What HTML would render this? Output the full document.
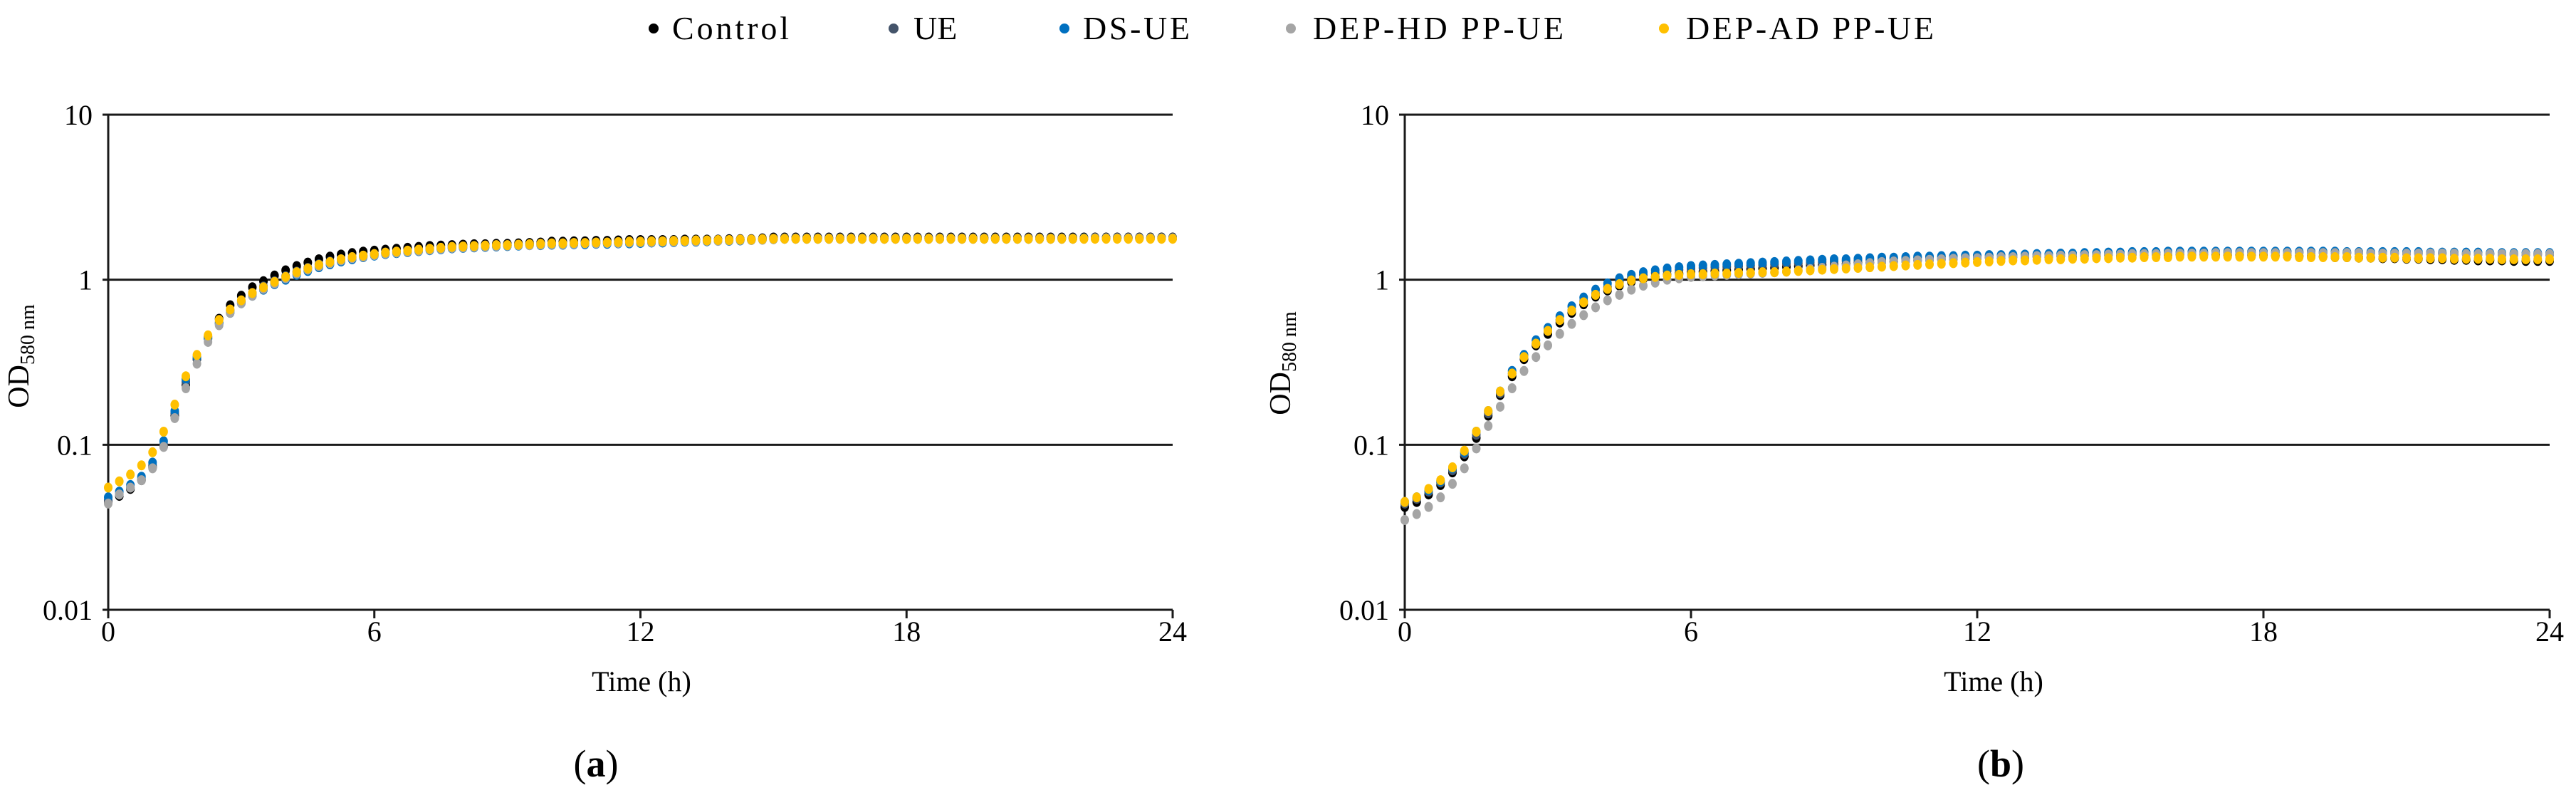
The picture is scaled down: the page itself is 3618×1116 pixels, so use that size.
<!DOCTYPE html>
<html><head><meta charset="utf-8">
<style>
html,body{margin:0;padding:0;background:#fff;}
svg{display:block;font-family:"Liberation Serif",serif;}
</style></head>
<body>
<svg id="fig" width="3618" height="1116" viewBox="0 0 3618 1116" xmlns="http://www.w3.org/2000/svg">
<g font-size="46">
 <g><circle cx="918" cy="40" r="7" fill="#000"/><text x="944" y="55" textLength="164">Control</text></g>
 <g><circle cx="1255" cy="40" r="7" fill="#44546a"/><text x="1283" y="55">UE</text></g>
 <g><circle cx="1495" cy="40" r="7" fill="#0070c0"/><text x="1521" y="55" textLength="150">DS-UE</text></g>
 <g><circle cx="1813" cy="40" r="7" fill="#a5a5a5"/><text x="1844" y="55" textLength="352">DEP-HD PP-UE</text></g>
 <g><circle cx="2337" cy="40" r="7" fill="#ffc000"/><text x="2368" y="55" textLength="348">DEP-AD PP-UE</text></g>
</g>
<g id="panelA"></g>
<g id="panelB"></g>
<text x="837" y="1090" font-size="54" text-anchor="middle">(<tspan font-weight="bold">a</tspan>)</text>
<text x="2810" y="1090" font-size="54" text-anchor="middle">(<tspan font-weight="bold">b</tspan>)</text>
</svg>
<script>
const times = [];
for (let i = 0; i <= 96; i++) times.push(i * 0.25);
const xTicks = [0, 6, 12, 18, 24];
const yTicks = [0.01, 0.1, 1, 10];
const yTickLabels = ["0.01", "0.1", "1", "10"];
const seriesNames = ["Control", "UE", "DS-UE", "DEP-HD PP-UE", "DEP-AD PP-UE"];
const seriesColors = ["#000000", "#44546a", "#0070c0", "#a5a5a5", "#ffc000"];

const aControl = [0.045,0.049,0.054,0.061,0.073,0.098,0.15,0.23,0.33,0.45,0.58,0.70,0.80,0.90,0.98,1.06,1.14,1.21,1.27,1.33,1.38,1.42,1.45,1.48,1.50,
1.52,1.54,1.56,1.58,1.60,1.61,1.62,1.63,1.64,1.64,1.65,1.65,1.66,1.67,1.68,1.70,1.70,1.71,1.71,1.72,1.72,1.73,1.74,1.74,
1.74,1.74,1.74,1.75,1.75,1.75,1.75,1.76,1.76,1.76,1.78,1.80,1.80,1.80,1.80,1.80,1.80,1.80,1.80,1.80,1.80,1.80,1.80,1.80,
1.80,1.80,1.80,1.80,1.80,1.80,1.80,1.80,1.80,1.80,1.80,1.80,1.80,1.80,1.80,1.80,1.80,1.80,1.80,1.80,1.80,1.80,1.80,1.80];
const aUE = [0.046,0.050,0.055,0.062,0.075,0.10,0.155,0.24,0.33,0.44,0.55,0.65,0.74,0.83,0.91,0.98,1.05,1.12,1.18,1.24,1.29,1.33,1.37,1.40,1.43,
1.46,1.48,1.50,1.52,1.54,1.56,1.58,1.59,1.60,1.61,1.62,1.62,1.63,1.64,1.65,1.65,1.66,1.67,1.67,1.68,1.68,1.69,1.70,1.70,
1.71,1.71,1.72,1.72,1.73,1.73,1.74,1.74,1.75,1.75,1.76,1.77,1.78,1.78,1.78,1.78,1.78,1.78,1.78,1.78,1.78,1.78,1.78,1.78,
1.78,1.78,1.78,1.78,1.78,1.78,1.78,1.78,1.78,1.78,1.78,1.78,1.78,1.78,1.78,1.78,1.79,1.79,1.79,1.79,1.79,1.79,1.79,1.79];
const aDSUE = [0.048,0.052,0.057,0.064,0.078,0.105,0.16,0.25,0.34,0.44,0.54,0.63,0.72,0.80,0.87,0.94,1.00,1.07,1.13,1.19,1.24,1.29,1.33,1.37,1.40,
1.43,1.45,1.47,1.49,1.51,1.53,1.55,1.56,1.57,1.58,1.59,1.60,1.61,1.62,1.62,1.63,1.63,1.64,1.64,1.65,1.65,1.66,1.66,1.67,
1.68,1.68,1.69,1.70,1.70,1.71,1.72,1.72,1.73,1.74,1.75,1.76,1.77,1.77,1.77,1.77,1.77,1.77,1.77,1.77,1.77,1.77,1.77,1.77,
1.77,1.77,1.77,1.77,1.77,1.77,1.77,1.77,1.77,1.77,1.77,1.77,1.77,1.77,1.77,1.78,1.78,1.78,1.78,1.78,1.78,1.78,1.78,1.78];
const aHD = [0.044,0.050,0.055,0.061,0.072,0.097,0.145,0.22,0.31,0.42,0.53,0.63,0.72,0.80,0.88,0.95,1.02,1.09,1.15,1.21,1.26,1.31,1.35,1.38,1.41,
1.44,1.46,1.48,1.50,1.52,1.54,1.56,1.57,1.58,1.59,1.60,1.61,1.62,1.62,1.63,1.64,1.64,1.65,1.66,1.66,1.67,1.67,1.68,1.69,
1.69,1.70,1.70,1.71,1.71,1.72,1.72,1.73,1.74,1.74,1.75,1.76,1.77,1.77,1.77,1.77,1.77,1.77,1.77,1.77,1.77,1.77,1.77,1.77,
1.77,1.77,1.77,1.77,1.77,1.77,1.77,1.77,1.77,1.77,1.77,1.77,1.77,1.77,1.77,1.77,1.78,1.78,1.78,1.78,1.78,1.78,1.78,1.78];
const aAD = [0.055,0.060,0.066,0.075,0.090,0.12,0.175,0.26,0.35,0.46,0.57,0.66,0.75,0.83,0.90,0.97,1.04,1.11,1.17,1.23,1.28,1.33,1.37,1.40,1.43,
1.46,1.48,1.50,1.52,1.54,1.56,1.58,1.59,1.60,1.61,1.62,1.62,1.63,1.64,1.65,1.66,1.66,1.67,1.67,1.68,1.68,1.69,1.70,1.70,
1.71,1.71,1.72,1.72,1.73,1.73,1.74,1.74,1.75,1.75,1.76,1.77,1.77,1.77,1.77,1.77,1.77,1.77,1.77,1.77,1.77,1.77,1.77,1.77,
1.77,1.77,1.77,1.77,1.77,1.77,1.77,1.77,1.77,1.77,1.77,1.77,1.77,1.77,1.77,1.77,1.77,1.77,1.77,1.77,1.77,1.77,1.77,1.77];

const bControl = [0.042,0.045,0.050,0.057,0.068,0.085,0.11,0.15,0.20,0.26,0.33,0.40,0.47,0.55,0.63,0.71,0.79,0.86,0.92,0.97,1.01,1.04,1.07,1.09,1.11,
1.12,1.13,1.14,1.15,1.16,1.17,1.18,1.20,1.21,1.22,1.23,1.24,1.25,1.26,1.27,1.28,1.29,1.30,1.31,1.32,1.33,1.34,1.34,1.35,
1.36,1.36,1.37,1.37,1.38,1.38,1.39,1.39,1.40,1.40,1.41,1.41,1.42,1.42,1.42,1.42,1.42,1.42,1.42,1.42,1.41,1.41,1.41,1.40,
1.40,1.39,1.39,1.38,1.38,1.37,1.37,1.36,1.36,1.35,1.35,1.34,1.34,1.33,1.33,1.32,1.32,1.31,1.31,1.31,1.30,1.30,1.30,1.30];
const bUE = [0.044,0.047,0.052,0.059,0.070,0.088,0.115,0.155,0.205,0.27,0.34,0.41,0.49,0.57,0.65,0.74,0.82,0.90,0.97,1.03,1.07,1.10,1.13,1.15,1.17,
1.18,1.19,1.20,1.21,1.22,1.23,1.24,1.25,1.26,1.27,1.28,1.29,1.30,1.31,1.32,1.33,1.34,1.35,1.36,1.37,1.37,1.38,1.38,1.39,
1.40,1.40,1.41,1.41,1.42,1.42,1.43,1.43,1.44,1.44,1.45,1.45,1.45,1.46,1.46,1.46,1.46,1.46,1.46,1.46,1.46,1.46,1.46,1.46,
1.46,1.46,1.46,1.45,1.45,1.45,1.45,1.45,1.45,1.45,1.44,1.44,1.44,1.44,1.44,1.43,1.43,1.43,1.43,1.42,1.42,1.42,1.42,1.42];
const bDSUE = [0.045,0.048,0.053,0.060,0.072,0.09,0.12,0.16,0.21,0.28,0.35,0.43,0.51,0.60,0.69,0.78,0.87,0.95,1.02,1.07,1.11,1.14,1.17,1.19,1.21,
1.22,1.23,1.24,1.25,1.26,1.27,1.28,1.29,1.30,1.31,1.32,1.33,1.33,1.34,1.35,1.36,1.36,1.37,1.38,1.38,1.39,1.39,1.40,1.40,
1.41,1.41,1.42,1.42,1.43,1.43,1.44,1.44,1.45,1.45,1.46,1.46,1.47,1.47,1.47,1.48,1.48,1.48,1.48,1.48,1.48,1.48,1.48,1.48,
1.48,1.48,1.48,1.48,1.48,1.48,1.47,1.47,1.47,1.47,1.47,1.47,1.47,1.46,1.46,1.46,1.46,1.46,1.45,1.45,1.45,1.45,1.45,1.45];
const bHD = [0.035,0.038,0.042,0.048,0.058,0.072,0.095,0.13,0.17,0.22,0.28,0.34,0.40,0.47,0.54,0.61,0.68,0.75,0.81,0.87,0.92,0.96,1.00,1.02,1.04,
1.05,1.06,1.07,1.08,1.09,1.10,1.11,1.12,1.14,1.16,1.18,1.20,1.22,1.24,1.26,1.28,1.29,1.30,1.31,1.32,1.33,1.34,1.35,1.35,
1.36,1.37,1.37,1.38,1.39,1.39,1.40,1.40,1.41,1.41,1.42,1.42,1.43,1.43,1.43,1.44,1.44,1.44,1.44,1.45,1.45,1.45,1.45,1.45,
1.45,1.45,1.45,1.45,1.45,1.45,1.45,1.45,1.44,1.44,1.44,1.44,1.44,1.44,1.44,1.44,1.43,1.43,1.43,1.43,1.43,1.43,1.43,1.43];
const bAD = [0.045,0.048,0.054,0.061,0.073,0.092,0.12,0.16,0.21,0.27,0.34,0.41,0.49,0.57,0.65,0.73,0.81,0.88,0.94,0.99,1.02,1.04,1.06,1.07,1.08,
1.08,1.09,1.09,1.10,1.10,1.11,1.11,1.12,1.13,1.14,1.15,1.16,1.17,1.18,1.19,1.20,1.21,1.22,1.23,1.24,1.25,1.26,1.27,1.28,
1.29,1.30,1.31,1.31,1.32,1.33,1.33,1.34,1.34,1.35,1.35,1.36,1.36,1.37,1.37,1.37,1.38,1.38,1.38,1.38,1.38,1.38,1.38,1.38,
1.38,1.38,1.37,1.37,1.37,1.37,1.37,1.36,1.36,1.36,1.36,1.35,1.35,1.35,1.35,1.34,1.34,1.34,1.34,1.33,1.33,1.33,1.33,1.33];

const NS = "http://www.w3.org/2000/svg";
function mk(tag, attrs, parent) {
  const e = document.createElementNS(NS, tag);
  for (const k in attrs) e.setAttribute(k, attrs[k]);
  parent.appendChild(e);
  return e;
}

function drawPanel(g, x0, x1, series, labelX, ylabX, ylabY, prefix) {
  const yTop = 161, yBot = 856;
  const xs = t => x0 + (t / 24) * (x1 - x0);
  const ys = v => yBot - (Math.log10(v) + 2) / 3 * (yBot - yTop);
  yTicks.forEach((v, i) => {
    const l = mk("line", {x1: x0 - 8, x2: x1, y1: ys(v), y2: ys(v), stroke: "#1a1a1a", "stroke-width": 3}, g);
    
    
    const t = mk("text", {x: x0 - 22, y: ys(v) + 14, "font-size": 40, "text-anchor": "end"}, g);
    t.textContent = yTickLabels[i];
    
    
  });
  const ax = mk("line", {x1: x0, x2: x0, y1: yTop, y2: yBot + 12, stroke: "#1a1a1a", "stroke-width": 3}, g);
  
  
  xTicks.forEach(v => {
    const tk = mk("line", {x1: xs(v), x2: xs(v), y1: yBot, y2: yBot + 12, stroke: "#1a1a1a", "stroke-width": 3}, g);
    
    
    const t = mk("text", {x: xs(v), y: yBot + 44, "font-size": 40, "text-anchor": "middle"}, g);
    t.textContent = String(v);
    
    
  });
  const xt = mk("text", {x: labelX, y: 970, "font-size": 40, "text-anchor": "middle"}, g);
  xt.textContent = "Time (h)";
  
  
  const yt = mk("text", {x: 0, y: 0, "font-size": 42, "text-anchor": "middle", transform: "translate(" + ylabX + "," + ylabY + ") rotate(-90)"}, g);
  
  
  yt.appendChild(document.createTextNode("OD"));
  const sub = mk("tspan", {"font-size": 28, dy: 8}, yt);
  sub.textContent = "580 nm";
  series.forEach((vals, si) => {
    const sg = mk("g", {fill: seriesColors[si]}, g);
    
    
    vals.forEach((v, i) => {
      const c = mk("ellipse", {cx: xs(times[i]), cy: ys(v), rx: 6, ry: 7}, sg);
      
      
    });
  });
}
drawPanel(document.getElementById("panelA"), 152, 1647, [aControl, aUE, aDSUE, aHD, aAD], 901, 40, 500, "a");
drawPanel(document.getElementById("panelB"), 1973, 3581, [bControl, bUE, bDSUE, bHD, bAD], 2800, 1812, 510, "b");
</script>
</body></html>
